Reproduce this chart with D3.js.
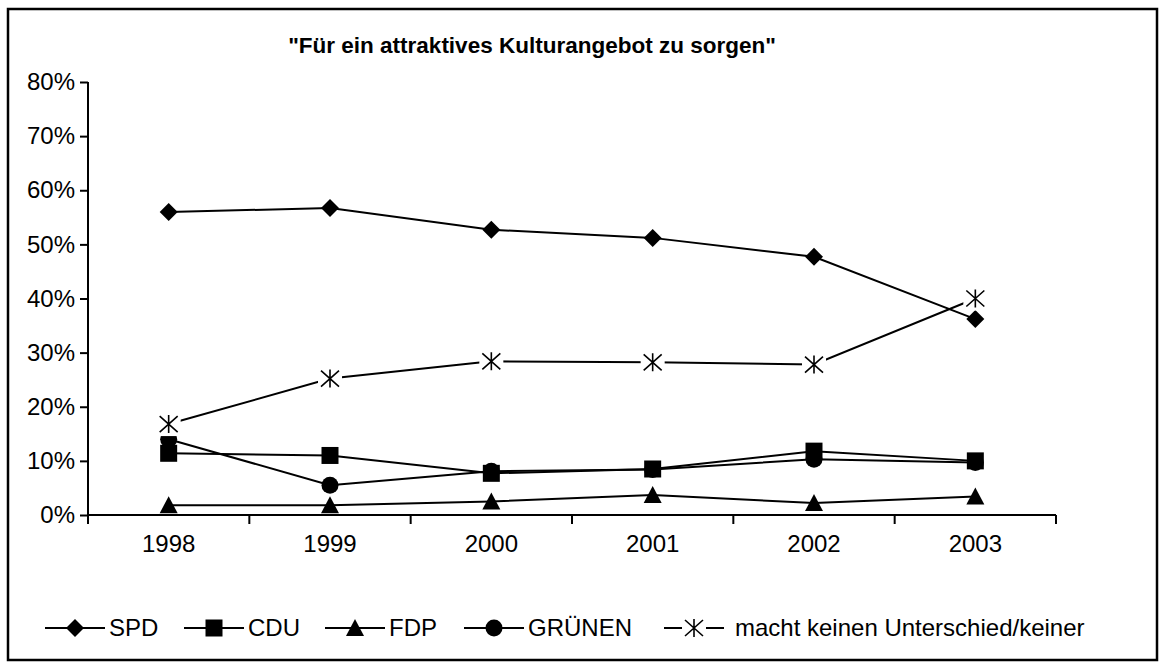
<!DOCTYPE html>
<html>
<head>
<meta charset="utf-8">
<title>Kulturangebot</title>
<script src="https://d3js.org/d3.v7.min.js"></script>
<style>
  body { margin: 0; background: #fff; }
  text { font-family: "Liberation Sans", Arial, sans-serif; fill: #000; }
</style>
</head>
<body>
<div id="chart"></div>
<script>
// data (share of respondents)
const years = ["1998", "1999", "2000", "2001", "2002", "2003"]
const spd = [0.560, 0.567, 0.527, 0.512, 0.477, 0.362]
const cdu = [0.114, 0.110, 0.077, 0.085, 0.118, 0.100]
const fdp = [0.018, 0.018, 0.025, 0.037, 0.022, 0.034]
const gruenen = [0.140, 0.055, 0.081, 0.084, 0.103, 0.097]
const keiner = [0.168, 0.252, 0.284, 0.282, 0.278, 0.400]
const yTicks = [0, 0.1, 0.2, 0.3, 0.4, 0.5, 0.6, 0.7, 0.8]

const seriesNames = ["SPD", "CDU", "FDP", "GRÜNEN", "macht keinen Unterschied/keiner"]
const seriesValues = [spd, cdu, fdp, gruenen, keiner]
const seriesMarkers = ["diamond", "square", "triangle", "circle", "asterisk"]

const w = 1165
const h = 668
const margin = { left: 88, right: 1056, top: 82, bottom: 515 }

const svg = d3.select("#chart")
    .append("svg")
    .attr("width", w)
    .attr("height", h)

// outer frame
svg.append("rect")
    .attr("x", 8).attr("y", 9)
    .attr("width", 1149).attr("height", 651)
    .attr("fill", "none")
    .attr("stroke", "#000")
    .attr("stroke-width", 2.5)

// title
svg.append("text")
    .attr("x", 532)
    .attr("y", 53)
    .attr("text-anchor", "middle")
    .attr("font-size", 22.5)
    .attr("font-weight", "bold")
    .text("\"Für ein attraktives Kulturangebot zu sorgen\"")

// scales
const xBand = d3.scaleBand()
    .domain(years)
    .range([margin.left, margin.right])
const x = d => xBand(d) + xBand.bandwidth() / 2
const y = d3.scaleLinear()
    .domain([0, 0.8])
    .range([margin.bottom, margin.top])

// y axis
const yAxis = d3.axisLeft(y)
    .tickValues(yTicks)
    .tickFormat(d3.format(".0%"))
    .tickSize(8)
    .tickPadding(5)
const gy = svg.append("g")
    .attr("transform", "translate(" + margin.left + ",0)")
    .call(yAxis)
gy.select(".domain").attr("stroke-width", 2).attr("d", "M0," + margin.bottom + "V" + margin.top)
gy.selectAll(".tick line").attr("stroke-width", 2)
gy.selectAll(".tick text").attr("font-size", 24).attr("font-family", "Liberation Sans, Arial, sans-serif")

// x axis: ticks between the categories
const xAxis = d3.axisBottom(xBand)
    .tickSize(0)
    .tickPadding(20)
const gx = svg.append("g")
    .attr("transform", "translate(0," + margin.bottom + ")")
    .call(xAxis)
gx.select(".domain").attr("stroke-width", 2).attr("d", "M" + margin.left + ",0H" + margin.right)
gx.selectAll(".tick text").attr("font-size", 24).attr("font-family", "Liberation Sans, Arial, sans-serif")
gx.selectAll(".sep")
    .data(years.concat(["end"]))
    .enter()
    .append("line")
    .attr("x1", (d, i) => i < years.length ? xBand(d) : margin.right)
    .attr("x2", (d, i) => i < years.length ? xBand(d) : margin.right)
    .attr("y1", 0)
    .attr("y2", 9)
    .attr("stroke", "#000")
    .attr("stroke-width", 2)

// marker shapes
const symbolFor = {
    diamond: "M0,-9L9,0L0,9L-9,0Z",
    square: "M-8.5,-8.5H8.5V8.5H-8.5Z",
    triangle: "M0,-9L9,8H-9Z",
    circle: d3.symbol().type(d3.symbolCircle).size(Math.PI * 8.5 * 8.5)(),
    asterisk: "M-9,-8L9,8M-9,8L9,-8M0,-9V9"
}

const drawMarker = (g, type) => {
    if (type === "asterisk") {
        g.append("rect")
            .attr("x", -12).attr("y", -12)
            .attr("width", 24).attr("height", 24)
            .attr("fill", "#fff")
        g.append("path")
            .attr("d", symbolFor[type])
            .attr("fill", "none")
            .attr("stroke", "#000")
            .attr("stroke-width", 1.6)
    } else {
        g.append("path")
            .attr("d", symbolFor[type])
            .attr("fill", "#000")
    }
}

const line = d3.line()
    .x((d, i) => x(years[i]))
    .y(d => y(d))

seriesValues.forEach((vals, s) => {
    const g = svg.append("g")
    g.append("path")
        .datum(vals)
        .attr("d", line)
        .attr("fill", "none")
        .attr("stroke", "#000")
        .attr("stroke-width", 2)
    g.selectAll(".m")
        .data(vals)
        .enter()
        .append("g")
        .attr("transform", (d, i) => "translate(" + x(years[i]) + "," + y(d) + ")")
        .each(function () { drawMarker(d3.select(this), seriesMarkers[s]) })
})

// legend
const legendX = [45, 184, 325, 464, 664]
const legend = svg.append("g").attr("transform", "translate(0,628)")
seriesNames.forEach((name, i) => {
    const item = legend.append("g").attr("transform", "translate(" + legendX[i] + ",0)")
    item.append("line")
        .attr("x1", 0).attr("x2", 60)
        .attr("y1", 0).attr("y2", 0)
        .attr("stroke", "#000")
        .attr("stroke-width", 2)
    const m = item.append("g").attr("transform", "translate(30,0)")
    drawMarker(m, seriesMarkers[i])
    item.append("text")
        .attr("x", i === 4 ? 71 : 64)
        .attr("y", 8)
        .attr("font-size", 24)
        .text(name)
})
</script>
</body>
</html>
